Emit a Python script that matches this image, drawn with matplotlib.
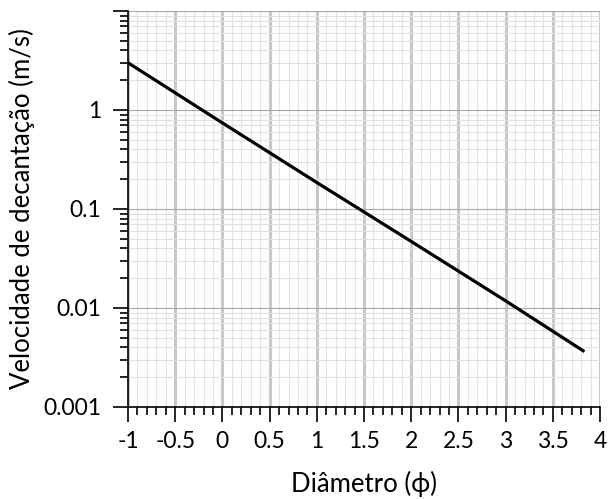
import matplotlib
matplotlib.use('Agg')
import matplotlib.pyplot as plt
import numpy as np
from matplotlib.ticker import MultipleLocator, LogLocator, FixedLocator, FixedFormatter, NullFormatter

plt.rcParams['font.family'] = ['Lato', 'DejaVu Sans']

# settling velocity
phi = [-1.0, 0.0, 1.0, 2.0, 3.0, 3.82]
velocity = [3.0, 0.74, 0.185, 0.047, 0.0118, 0.0037]

yticks = [0.001, 0.01, 0.1, 1, 10]
ytick_labels = ['0.001', '0.01', '0.1', '1', '']
xticks = [-1, -0.5, 0, 0.5, 1, 1.5, 2, 2.5, 3, 3.5, 4]
xtick_labels = ['-1', '-0.5', '0', '0.5', '1', '1.5', '2', '2.5', '3', '3.5', '4']

fig = plt.figure(figsize=(6.08, 4.99), dpi=100)
ax = fig.add_axes([0.2105, 0.1844, 0.7765, 0.7936])

ax.set_yscale('log')
ax.set_xlim(-1, 4)
ax.set_ylim(0.001, 10)

# grid: thick grey verticals every 0.5, light minor lines
ax.xaxis.set_major_locator(FixedLocator(xticks))
ax.xaxis.set_major_formatter(FixedFormatter(xtick_labels))
ax.xaxis.set_minor_locator(MultipleLocator(0.1))
ax.yaxis.set_major_locator(FixedLocator(yticks))
ax.yaxis.set_major_formatter(FixedFormatter(ytick_labels))
ax.yaxis.set_minor_locator(LogLocator(base=10, subs=np.arange(2, 10)))
ax.yaxis.set_minor_formatter(NullFormatter())

ax.grid(axis='x', which='major', color='#c8c8c8', lw=2.2, zorder=0)
ax.grid(axis='x', which='minor', color='#e3e3e3', lw=0.8, zorder=0)
ax.grid(axis='y', which='major', color='#a8a8a8', lw=0.8, zorder=0)
ax.grid(axis='y', which='minor', color='#e0e0e0', lw=0.8, zorder=0)
ax.set_axisbelow(True)

ax.plot(phi, velocity, color='black', lw=2.3, zorder=3)

for s in ['top', 'right']:
    ax.spines[s].set_visible(False)
for s in ['left', 'bottom']:
    ax.spines[s].set_linewidth(1.2)

ax.tick_params(which='major', direction='out', length=11, width=1.2, labelsize=16.5)
ax.tick_params(which='minor', direction='out', length=6, width=1.2)
ax.tick_params(axis='y', which='major', pad=8)
ax.tick_params(axis='x', which='major', pad=6)

ax.set_xlabel('Diâmetro (ϕ)', fontsize=18.5, labelpad=14)
ax.set_ylabel('Velocidade de decantação (m/s)', fontsize=18.5, labelpad=6)

fig.savefig('out.png', dpi=100)
